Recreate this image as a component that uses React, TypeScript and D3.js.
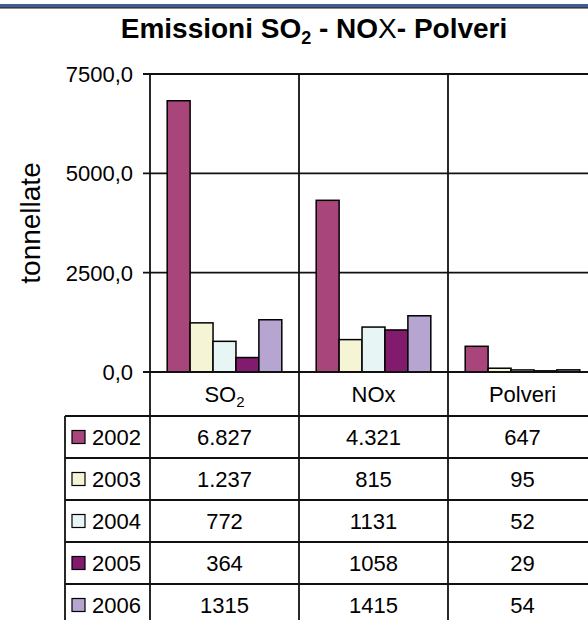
import React from "react";
import * as d3 from "d3";

const categories = ["SO2", "NOx", "Polveri"];
const years = ["2002", "2003", "2004", "2005", "2006"];
const valuesSO2 = [6827, 1237, 772, 364, 1315];
const valuesNOx = [4321, 815, 1131, 1058, 1415];
const valuesPolveri = [647, 95, 52, 29, 54];
const tableSO2 = ["6.827", "1.237", "772", "364", "1315"];
const tableNOx = ["4.321", "815", "1131", "1058", "1415"];
const tablePolveri = ["647", "95", "52", "29", "54"];
const yTicks = [0, 2500, 5000, 7500];
const colors = ["#A8457A", "#F5F5D5", "#E8F5F5", "#821A6E", "#B5A5D0"];

const W = 588;
const H = 620;
const FONT = "'Liberation Sans', Arial, sans-serif";

export default function App() {
  const seriesByCat = [valuesSO2, valuesNOx, valuesPolveri];
  const tableByCat = [tableSO2, tableNOx, tablePolveri];

  const left = 150;
  const x = d3.scaleBand().domain(categories).range([left, left + 3 * 149]).padding(0);
  const xi = d3
    .scaleBand()
    .domain(years)
    .range([0, x.bandwidth()])
    .paddingInner(0)
    .paddingOuter(0.75);
  const y = d3.scaleLinear().domain([0, 7500]).range([372, 74]);

  const tableTop = 372;
  const headerH = 44;
  const rowH = 42;
  const rowsTop = tableTop + headerH;
  const tableLeft = 65;
  const lineColor = "#111";

  const fmt = (v: number) => d3.format(".1f")(v).replace(".", ",");

  return (
    <svg
      width={W}
      height={H}
      style={{ position: "absolute", left: 0, top: 0, background: "#fff" }}
      fontFamily={FONT}
    >
      <rect x={0} y={0} width={W} height={H} fill="#fff" />
      {/* top banner lines */}
      <rect x={0} y={4} width={W} height={3.2} fill="#3B5E95" />
      <rect x={0} y={7.2} width={W} height={1.3} fill="#151515" />

      {/* title */}
      <text x={314} y={38} textAnchor="middle" fontSize={28} fontWeight="bold" fill="#000">
        <tspan>Emissioni SO</tspan>
        <tspan fontSize={18} dy={6}>2</tspan>
        <tspan dy={-6}> - NO</tspan>
        <tspan fontWeight="normal">X</tspan>
        <tspan>- Polveri</tspan>
      </text>

      {/* y axis label */}
      <text
        transform={`translate(40,223) rotate(-90)`}
        textAnchor="middle"
        fontSize={28}
        fill="#000"
      >
        tonnellate
      </text>

      {/* horizontal gridlines & ticks */}
      {yTicks.map((t) => (
        <g key={t}>
          <line x1={143} x2={W} y1={y(t)} y2={y(t)} stroke={lineColor} strokeWidth={1.8} />
          <text
            x={133}
            y={y(t)}
            dy="0.36em"
            textAnchor="end"
            fontSize={22}
            fill="#000"
          >
            {fmt(t)}
          </text>
        </g>
      ))}

      {/* bars */}
      {categories.map((c, ci) => (
        <g key={c} transform={`translate(${x(c)},0)`}>
          {years.map((yr, yi) => {
            const v = seriesByCat[ci][yi];
            return (
              <rect
                key={yr}
                x={xi(yr)}
                y={y(v)}
                width={xi.bandwidth()}
                height={y(0) - y(v)}
                fill={colors[yi]}
                stroke="#000"
                strokeWidth={1.5}
              />
            );
          })}
        </g>
      ))}

      {/* zero line redraw */}
      <line x1={143} x2={W} y1={y(0)} y2={y(0)} stroke={lineColor} strokeWidth={1.8} />

      {/* vertical lines: axis and category boundaries */}
      {categories.map((c) => (
        <line
          key={c}
          x1={x(c)}
          x2={x(c)}
          y1={y(7500)}
          y2={H}
          stroke={lineColor}
          strokeWidth={1.8}
        />
      ))}
      <line
        x1={x.range()[1]}
        x2={x.range()[1]}
        y1={y(7500)}
        y2={H}
        stroke={lineColor}
        strokeWidth={1.8}
      />

      {/* table */}
      <line x1={tableLeft} x2={tableLeft} y1={rowsTop} y2={H} stroke={lineColor} strokeWidth={1.8} />
      {years.map((yr, yi) => (
        <line
          key={"hl" + yr}
          x1={tableLeft}
          x2={W}
          y1={rowsTop + yi * rowH}
          y2={rowsTop + yi * rowH}
          stroke={lineColor}
          strokeWidth={1.8}
        />
      ))}
      <line
        x1={tableLeft}
        x2={W}
        y1={rowsTop + 5 * rowH}
        y2={rowsTop + 5 * rowH}
        stroke={lineColor}
        strokeWidth={1.8}
      />

      {/* header */}
      {categories.map((c) => (
        <text
          key={"h" + c}
          x={(x(c) as number) + x.bandwidth() / 2}
          y={tableTop + headerH / 2}
          dy="0.36em"
          textAnchor="middle"
          fontSize={22}
          fill="#000"
        >
          {c === "SO2" ? (
            <>
              <tspan>SO</tspan>
              <tspan fontSize={15} dy={5}>2</tspan>
            </>
          ) : (
            c
          )}
        </text>
      ))}

      {/* rows */}
      {years.map((yr, yi) => {
        const cy = rowsTop + yi * rowH + rowH / 2;
        return (
          <g key={"r" + yr}>
            <rect
              x={72}
              y={cy - 6.5}
              width={13}
              height={13}
              fill={colors[yi]}
              stroke="#000"
              strokeWidth={1.2}
            />
            <text x={92} y={cy} dy="0.36em" fontSize={22} fill="#000">
              {yr}
            </text>
            {categories.map((c, ci) => (
              <text
                key={c}
                x={(x(c) as number) + x.bandwidth() / 2}
                y={cy}
                dy="0.36em"
                textAnchor="middle"
                fontSize={22}
                fill="#000"
              >
                {tableByCat[ci][yi]}
              </text>
            ))}
          </g>
        );
      })}
    </svg>
  );
}
